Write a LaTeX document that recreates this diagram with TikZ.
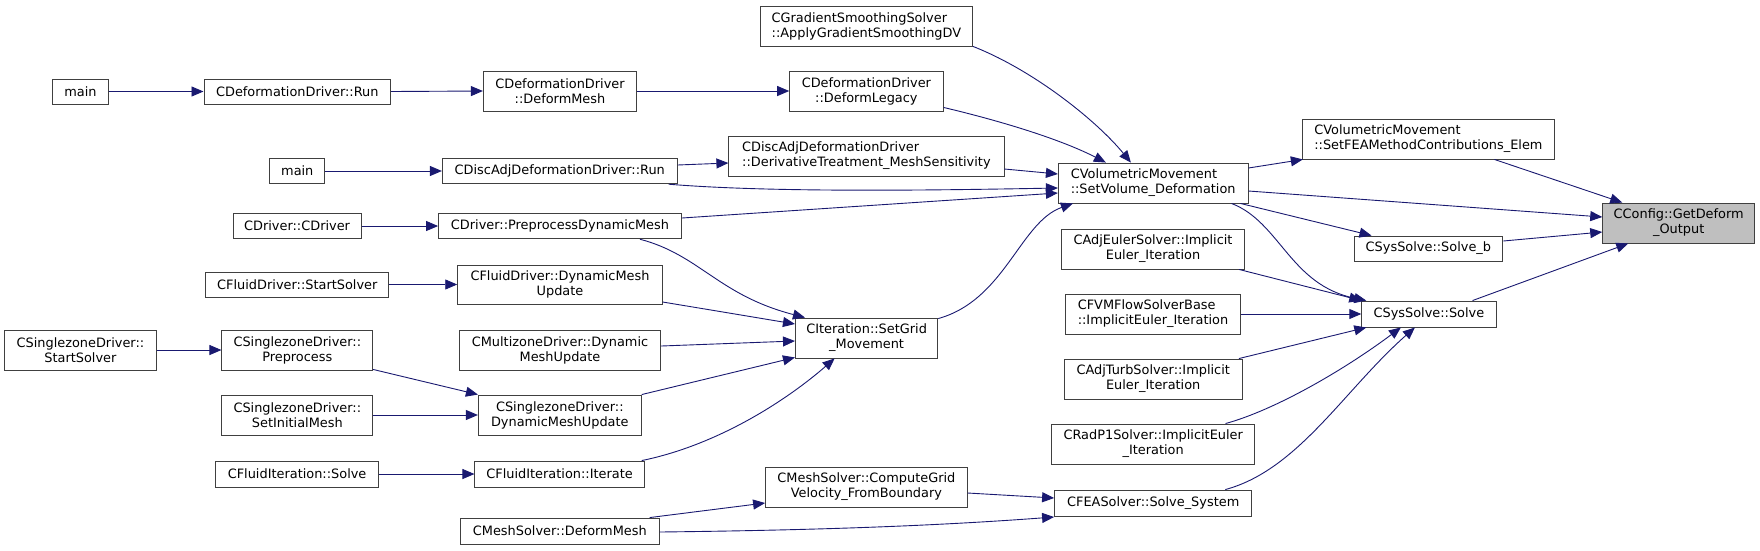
\documentclass[tikz,border=0pt]{standalone}
\usepackage{fontspec}
\setmainfont{DejaVu Sans}
\usetikzlibrary{arrows.meta,calc}
\definecolor{edgec}{HTML}{191970}
\definecolor{boxc}{HTML}{404040}
\definecolor{hlc}{HTML}{BFBFBF}
\newcommand{\dvf}{\fontsize{12.9}{15}\selectfont}
\tikzset{
  box/.style={draw=boxc, line width=0.9pt, fill=white, inner sep=0pt, font=\dvf, align=center},
  lbox/.style={box, align=left},
  edge/.style={draw=edgec, line width=0.9pt, -{Triangle[length=12pt,width=10pt]}}
}
\begin{document}
\begin{tikzpicture}[x=1pt,y=-1pt]
\useasboundingbox (0,0) rectangle (1760,550);
% nodes
\node[box, minimum width=55.5, minimum height=25] (mainA) at (80.5,91.5) {main};
\node[box, minimum width=186.7, minimum height=25] (dRun) at (297.3,91.5) {CDeformationDriver::Run};
\node[box, minimum width=153.3, minimum height=40] (dDeformMesh) at (560,91) {CDeformationDriver\\::DeformMesh};
\node[box, minimum width=153.5, minimum height=40] (dDeformLegacy) at (866.4,91) {CDeformationDriver\\::DeformLegacy};
\node[lbox, minimum width=212.4, minimum height=40] (gradSm) at (866.4,26) {CGradientSmoothingSolver\\::ApplyGradientSmoothingDV};
\node[box, minimum width=55.1, minimum height=25.5] (mainB) at (297.3,171) {main};
\node[box, minimum width=234.9, minimum height=25.5] (daRun) at (559.8,171) {CDiscAdjDeformationDriver::Run};
\node[lbox, minimum width=275.1, minimum height=40] (daDeriv) at (866.4,156) {CDiscAdjDeformationDriver\\::DerivativeTreatment\_MeshSensitivity};
\node[lbox, minimum width=189.7, minimum height=40] (setVol) at (1153.2,183) {CVolumetricMovement\\::SetVolume\_Deformation};
\node[box, minimum width=128.2, minimum height=25.5] (cdriver) at (297.1,226) {CDriver::CDriver};
\node[box, minimum width=242.9, minimum height=25.5] (preDyn) at (560,226) {CDriver::PreprocessDynamicMesh};
\node[box, minimum width=182.9, minimum height=25] (fdStart) at (297.3,284.5) {CFluidDriver::StartSolver};
\node[box, minimum width=204.6, minimum height=39] (fdDyn) at (560,284.5) {CFluidDriver::DynamicMesh\\Update};
\node[box, minimum width=151.5, minimum height=40] (szStart) at (80.4,350) {CSinglezoneDriver::\\StartSolver};
\node[box, minimum width=150.8, minimum height=40] (szPre) at (297.3,350) {CSinglezoneDriver::\\Preprocess};
\node[box, minimum width=201.5, minimum height=40] (mzDyn) at (560,350) {CMultizoneDriver::Dynamic\\MeshUpdate};
\node[box, minimum width=150.8, minimum height=40] (szInit) at (297.3,415) {CSinglezoneDriver::\\SetInitialMesh};
\node[box, minimum width=162.9, minimum height=40] (szDyn) at (559.8,415) {CSinglezoneDriver::\\DynamicMeshUpdate};
\node[box, minimum width=163.4, minimum height=26] (fiSolve) at (297.1,474) {CFluidIteration::Solve};
\node[box, minimum width=169.4, minimum height=26] (fiIter) at (559.6,474) {CFluidIteration::Iterate};
\node[box, minimum width=198.9, minimum height=26] (msDeform) at (559.8,531) {CMeshSolver::DeformMesh};
\node[box, minimum width=142.4, minimum height=40] (setGrid) at (866.6,338) {CIteration::SetGrid\\\_Movement};
\node[box, minimum width=201.7, minimum height=40] (msGrid) at (866.4,487) {CMeshSolver::ComputeGrid\\Velocity\_FromBoundary};
\node[box, minimum width=183.2, minimum height=40] (adjEuler) at (1153,249) {CAdjEulerSolver::Implicit\\Euler\_Iteration};
\node[lbox, minimum width=175.5, minimum height=40] (fvm) at (1153,314) {CFVMFlowSolverBase\\::ImplicitEuler\_Iteration};
\node[box, minimum width=177.5, minimum height=40] (adjTurb) at (1153.2,379) {CAdjTurbSolver::Implicit\\Euler\_Iteration};
\node[box, minimum width=202.7, minimum height=40] (radP1) at (1153.2,444) {CRadP1Solver::ImplicitEuler\\\_Iteration};
\node[box, minimum width=197.3, minimum height=26] (feaSolve) at (1153.2,503) {CFEASolver::Solve\_System};
\node[lbox, minimum width=252.2, minimum height=40] (setFEA) at (1428.4,139) {CVolumetricMovement\\::SetFEAMethodContributions\_Elem};
\node[box, minimum width=148.9, minimum height=25] (solveB) at (1428.4,248.5) {CSysSolve::Solve\_b};
\node[box, minimum width=134.3, minimum height=26] (sysSolve) at (1428.9,314) {CSysSolve::Solve};
\node[box, fill=hlc, minimum width=152, minimum height=40] (getDeform) at (1678.7,223) {CConfig::GetDeform\\\_Output};
% edges
\draw[edge] (mainA.east) -- (dRun.west);
\draw[edge] (dRun.east) -- (dDeformMesh.west);
\draw[edge] (dDeformMesh.east) -- (dDeformLegacy.west);
\draw[edge] ($(dDeformLegacy.south east)+(0,-4)$) .. controls (1005,122) and (1062,140) .. ($(setVol.north west)+(48,0)$);
\draw[edge] (gradSm.south east) .. controls (1033,70) and (1096,120) .. ($(setVol.north west)+(73,0)$);
\draw[edge] (mainB.east) -- (daRun.west);
\draw[edge] ($(daRun.east)+(0,-6)$) -- ($(daDeriv.west)+(0,7)$);
\draw[edge] ($(daRun.south east)+(-9,0)$) .. controls (775,193) and (947,190) .. ($(setVol.west)+(0,5)$);
\draw[edge] ($(daDeriv.east)+(0,13)$) -- ($(setVol.west)+(0,-9)$);
\draw[edge] (cdriver.east) -- (preDyn.west);
\draw[edge] ($(preDyn.east)+(0,-8)$) -- ($(setVol.west)+(0,10)$);
\draw[edge] ($(preDyn.south east)+(-42,0)$) .. controls (700,255) and (718,295) .. ($(setGrid.north west)+(10,0)$);
\draw[edge] (fdStart.east) -- (fdDyn.west);
\draw[edge] ($(fdDyn.east)+(0,17.5)$) -- ($(setGrid.west)+(0,-14)$);
\draw[edge] ($(mzDyn.east)+(0,-4)$) -- ($(setGrid.west)+(0,3)$);
\draw[edge] (szStart.east) -- (szPre.west);
\draw[edge] ($(szPre.south east)+(0,-1)$) -- (szDyn.north west);
\draw[edge] (szInit.east) -- (szDyn.west);
\draw[edge] (szDyn.north east) -- ($(setGrid.south west)+(0,-1)$);
\draw[edge] (fiSolve.east) -- (fiIter.west);
\draw[edge] ($(fiIter.north east)+(-3,0)$) .. controls (718,445) and (787,400) .. ($(setGrid.south)+(-32,0)$);
\draw[edge] ($(setGrid.north east)+(0,1)$) .. controls (1005,300) and (1020,222) .. ($(setVol.south west)+(15,0)$);
\draw[edge] ($(msDeform.north east)+(-10,0)$) -- ($(msGrid.west)+(0,16)$);
\draw[edge] ($(msDeform.east)+(0,1)$) .. controls (833,530) and (947,525) .. ($(feaSolve.west)+(0,14)$);
\draw[edge] ($(msGrid.east)+(0,6)$) -- ($(feaSolve.west)+(0,-5)$);
\draw[edge] ($(setVol.east)+(0,-15)$) -- ($(setFEA.south west)+(1,0)$);
\draw[edge] ($(setVol.east)+(0,8)$) -- ($(getDeform.west)+(0,-6)$);
\draw[edge] ($(setVol.south east)+(-8,0)$) -- ($(solveB.north west)+(18,0)$);
\draw[edge] ($(setVol.south east)+(-17,0)$) .. controls (1280,222) and (1290,285) .. ($(sysSolve.north west)+(5,0)$);
\draw[edge] ($(setFEA.south east)+(-60.5,0)$) -- ($(getDeform.north west)+(20,0)$);
\draw[edge] ($(solveB.east)+(0,-7.5)$) -- ($(getDeform.west)+(0,9)$);
\draw[edge] ($(sysSolve.north east)+(-24,0)$) -- ($(getDeform.south west)+(26,0)$);
\draw[edge] ($(adjEuler.south east)+(-6,0)$) -- (sysSolve.north west);
\draw[edge] (fvm.east) -- (sysSolve.west);
\draw[edge] ($(adjTurb.north east)+(-3.5,0)$) -- ($(sysSolve.south west)+(5,0)$);
\draw[edge] ($(radP1.north east)+(-29.5,0)$) .. controls (1275,410) and (1344,370) .. ($(sysSolve.south)+(-28,0)$);
\draw[edge] ($(feaSolve.north east)+(-27,0)$) .. controls (1298,470) and (1344,390) .. ($(sysSolve.south)+(-14,0)$);
\end{tikzpicture}
\end{document}
